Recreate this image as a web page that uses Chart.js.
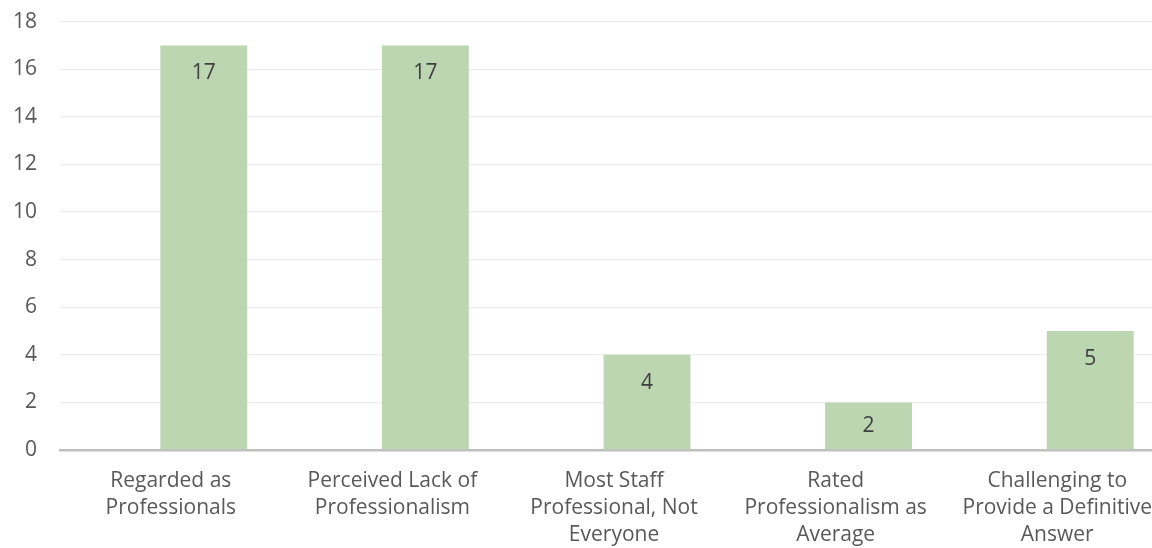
<!DOCTYPE html>
<html>
<head>
<meta charset="utf-8">
<script src="https://cdn.jsdelivr.net/npm/chart.js@4"></script>
<style>
  html, body { margin: 0; padding: 0; background: #fff; overflow: hidden; }
  canvas { display: block; margin-top: -14px; }
</style>
</head>
<body>
<canvas id="chart" width="1169" height="574"></canvas>
<script>
// categories (wrapped the same way as the picture)
const categories = [
  ['Regarded as', 'Professionals'],
  ['Perceived Lack of', 'Professionalism'],
  ['Most Staff', 'Professional, Not', 'Everyone'],
  ['Rated', 'Professionalism as', 'Average'],
  ['Challenging to', 'Provide a Definitive', 'Answer']
];
const counts = [17, 17, 4, 2, 5];
const emptySlot = [null, null, null, null, null];
const yTicks = [0, 2, 4, 6, 8, 10, 12, 14, 16, 18];

// values written inside the top of each bar
const barValues = {
  id: 'barValues',
  afterDatasetsDraw(chart) {
    const c = chart.ctx;
    const meta = chart.getDatasetMeta(1);
    c.save();
    c.font = '21px "Open Sans"';
    c.fillStyle = '#404040';
    c.textAlign = 'center';
    c.textBaseline = 'middle';
    meta.data.forEach((bar, i) => {
      const h = bar.base - bar.y;
      c.fillText(String(counts[i]), bar.x, bar.y + Math.min(28, h / 2));
    });
    c.restore();
  }
};

new Chart(document.getElementById('chart'), {
  type: 'bar',
  data: {
    labels: categories,
    datasets: [
      { label: '', data: emptySlot, backgroundColor: 'rgba(0,0,0,0)' },
      {
        label: 'Count',
        data: counts,
        backgroundColor: 'rgb(189,214,178)',
        borderWidth: 0
      }
    ]
  },
  options: {
    responsive: false,
    animation: false,
    devicePixelRatio: 1,
    categoryPercentage: 0.595,
    barPercentage: 1.318,
    layout: { padding: { top: 7, left: 0, right: 0, bottom: 0 } },
    plugins: { legend: { display: false }, tooltip: { enabled: false } },
    scales: {
      x: {
        grid: { display: false, drawTicks: false },
        border: { color: '#bfbfbf', width: 2.5 },
        ticks: {
          autoSkip: false,
          maxRotation: 0,
          padding: 17,
          color: '#595959',
          font: { family: 'Open Sans', size: 21, lineHeight: 1.3 }
        },
        afterFit(axis) { axis.height = 110; }
      },
      y: {
        min: 0,
        max: 18,
        afterBuildTicks(axis) { axis.ticks = yTicks.map(v => ({ value: v })); },
        grid: { color: '#ececec', lineWidth: 1.3, drawTicks: false },
        border: { display: false },
        ticks: {
          padding: 23,
          color: '#595959',
          font: { family: 'Open Sans', size: 21 }
        },
        afterFit(axis) { axis.width = 60; }
      }
    }
  },
  plugins: [barValues]
});
</script>
</body>
</html>
